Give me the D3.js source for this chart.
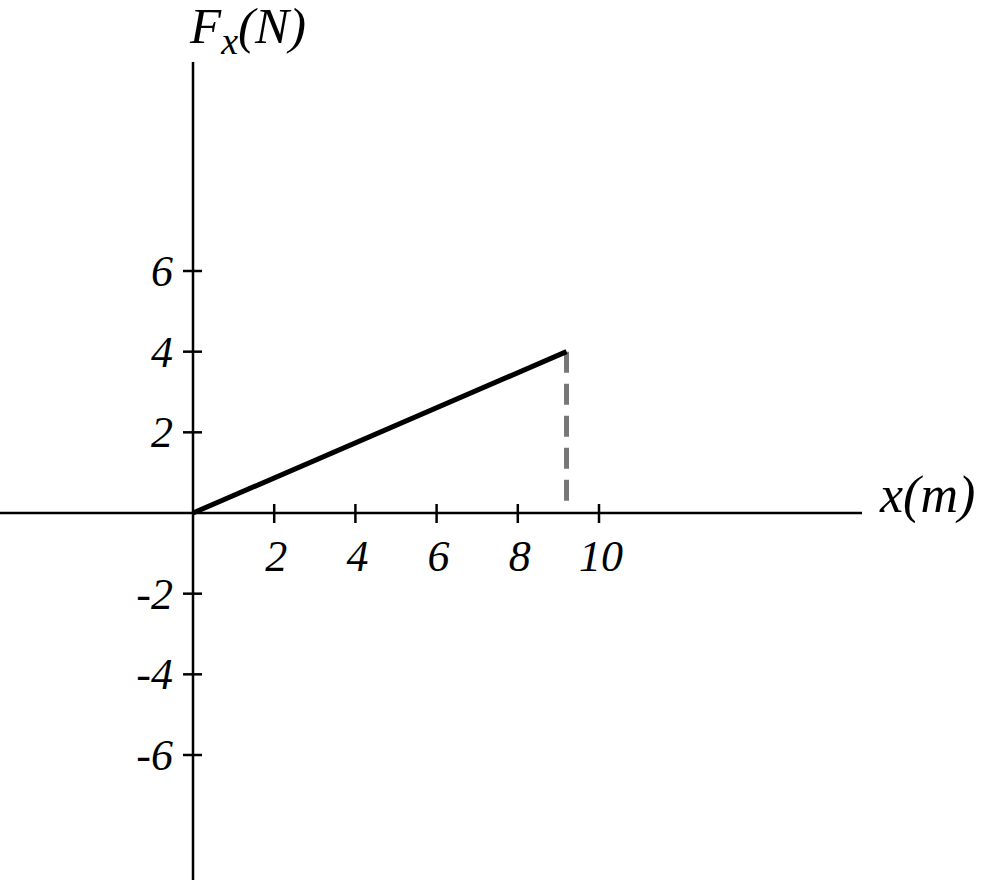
<!DOCTYPE html>
<html>
<meta charset="utf-8">
<style>
body { margin: 0; background: #fff; }
text { font-family: "Liberation Serif", "Times New Roman", serif; font-style: italic; fill: #000; }
</style>
<body>
<script src="https://d3js.org/d3.v7.min.js"></script>
<script>
// data
var xTicks = [2, 4, 6, 8, 10];
var yTicks = [6, 4, 2, -2, -4, -6];
var forceX = [0, 9.2];
var forceY = [0, 4];
var dropX = 9.2;

var width = 983, height = 883;

// origin at (193, 513), roughly 40.6 px per unit
var x = d3.scaleLinear().domain([0, 10]).range([193, 599]);
var y = d3.scaleLinear().domain([0, 6]).range([513, 271]);

var svg = d3.select("body").append("svg")
    .attr("width", width)
    .attr("height", height);

// axes
svg.append("line")
    .attr("x1", 0).attr("x2", 862)
    .attr("y1", y(0)).attr("y2", y(0))
    .style("stroke", "#000").style("stroke-width", 2.5);
svg.append("line")
    .attr("x1", x(0)).attr("x2", x(0))
    .attr("y1", 62).attr("y2", 880)
    .style("stroke", "#000").style("stroke-width", 2.5);

// x ticks
svg.selectAll(".xtick")
    .data(xTicks)
  .enter().append("line")
    .attr("class", "xtick")
    .attr("x1", x).attr("x2", x)
    .attr("y1", y(0) - 9).attr("y2", y(0) + 10)
    .style("stroke", "#000").style("stroke-width", 2.5);
svg.selectAll(".xlab")
    .data(xTicks)
  .enter().append("text")
    .attr("class", "xlab")
    .attr("x", function(d) { return x(d) + 2; })
    .attr("y", 571)
    .style("font-size", "44px")
    .style("text-anchor", "middle")
    .text(function(d) { return d; });

// y ticks
svg.selectAll(".ytick")
    .data(yTicks)
  .enter().append("line")
    .attr("class", "ytick")
    .attr("x1", x(0) - 10).attr("x2", x(0) + 9)
    .attr("y1", y).attr("y2", y)
    .style("stroke", "#000").style("stroke-width", 2.5);
svg.selectAll(".ylab")
    .data(yTicks)
  .enter().append("text")
    .attr("class", "ylab")
    .attr("x", 173)
    .attr("y", function(d) { return y(d) + 15; })
    .style("font-size", "44px")
    .style("text-anchor", "end")
    .text(function(d) { return d; });

// dashed drop line
svg.append("line")
    .attr("x1", x(dropX)).attr("x2", x(dropX))
    .attr("y1", y(forceY[1])).attr("y2", y(0) - 7)
    .style("stroke", "#777").style("stroke-width", 5)
    .style("stroke-dasharray", "21,11");

// force line
svg.append("path")
    .datum(d3.zip(forceX, forceY))
    .attr("d", d3.line().x(function(d) { return x(d[0]); }).y(function(d) { return y(d[1]); }))
    .style("fill", "none")
    .style("stroke", "#000")
    .style("stroke-width", 5);

// axis titles
var fy = svg.append("text")
    .attr("x", 190)
    .attr("y", 43)
    .style("font-size", "51px");
fy.append("tspan").text("F");
fy.append("tspan").attr("dy", 11).style("font-size", "38px").text("x");
fy.append("tspan").attr("dy", -11).text("(N)");

svg.append("text")
    .attr("x", 880)
    .attr("y", 512)
    .style("font-size", "52px")
    .text("x(m)");
</script>
</body>
</html>
